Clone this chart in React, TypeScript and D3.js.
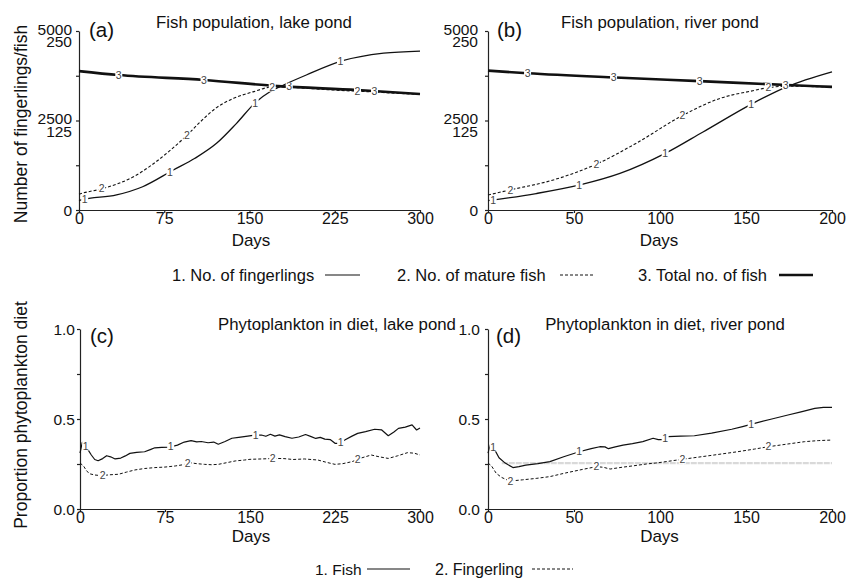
import { useEffect, useRef } from "react";
import * as d3 from "d3";

type Pt = [number, number];

const FONT = "'Liberation Sans', Arial, Helvetica, sans-serif";

// (a) lake pond: [day, value]; fingerlings on the 0-5000 scale, fish on 0-250
const lakeFingerlings: Pt[] = [[0, 260], [2, 280], [33, 420], [56, 650], [83, 1117], [102, 1444], [121, 1862], [138.6, 2421], [156, 3026], [168, 3305], [180, 3492], [200, 3771], [232, 4170], [268, 4380], [300, 4440]];
const lakeMature: Pt[] = [[0, 22], [2, 23], [21, 30], [48, 46.5], [77, 79], [96, 106], [106, 122], [121, 143], [136, 156], [153, 165], [171, 172], [185, 171.5], [200, 170], [225, 167.5], [250, 165.5], [275, 163.5], [300, 161.5]];
const lakeTotal: Pt[] = [[0, 194], [35, 188.5], [110, 181.6], [175, 173], [245, 167.6], [300, 162]];

// (b) river pond
const riverFingerlings: Pt[] = [[0, 260], [28, 460], [53.5, 700], [76.7, 1020], [103, 1580], [125, 2180], [154, 2980], [173.6, 3440], [200, 3860]];
const riverMature: Pt[] = [[0, 21], [12.8, 28], [38, 42], [63, 64], [86, 93], [113.6, 132.7], [135, 156], [154, 166.6], [163, 171], [175, 173], [187, 172.5], [200, 171.5]];
const riverTotal: Pt[] = [[0, 194.6], [23, 191], [74, 185], [123, 180], [174, 174.6], [200, 172]];

// (c) phytoplankton in diet, lake pond
const lakeDietFish: Pt[] = [[0, 0.31], [2, 0.37], [4, 0.36], [7, 0.33], [10, 0.3], [13, 0.275], [16, 0.268], [20, 0.28], [23.5, 0.296], [27, 0.29], [31, 0.278], [36, 0.283], [40, 0.295], [44, 0.309], [50, 0.315], [57, 0.318], [62, 0.33], [66, 0.34], [72, 0.342], [79, 0.344], [86, 0.355], [92, 0.372], [98, 0.38], [103, 0.373], [107, 0.375], [113, 0.368], [118, 0.372], [122, 0.36], [128, 0.375], [134, 0.393], [140, 0.398], [148, 0.405], [154, 0.41], [160, 0.411], [164, 0.404], [168, 0.415], [172, 0.405], [176, 0.412], [181, 0.402], [187, 0.393], [193, 0.4], [199, 0.414], [204, 0.402], [208, 0.392], [212, 0.398], [216, 0.388], [221, 0.385], [225, 0.365], [229, 0.365], [234, 0.385], [240, 0.405], [245, 0.42], [252, 0.43], [260, 0.443], [266, 0.44], [272, 0.407], [277, 0.428], [281, 0.448], [287, 0.455], [293, 0.467], [297, 0.439], [300, 0.45]];
const lakeDietFingerling: Pt[] = [[0, 0.255], [3, 0.24], [6, 0.21], [9, 0.195], [13, 0.189], [19, 0.185], [26, 0.19], [34, 0.193], [41, 0.205], [48.5, 0.217], [57, 0.225], [66, 0.23], [75, 0.233], [84, 0.239], [90, 0.245], [97, 0.257], [103, 0.252], [110, 0.248], [116, 0.246], [122, 0.248], [130, 0.258], [137, 0.267], [145, 0.272], [150, 0.276], [160, 0.278], [172, 0.281], [180, 0.28], [188, 0.275], [198, 0.278], [204, 0.275], [210, 0.272], [217, 0.26], [225, 0.248], [232, 0.252], [240, 0.263], [248, 0.283], [257, 0.3], [264, 0.29], [272, 0.281], [280, 0.295], [289, 0.313], [295, 0.31], [300, 0.3]];

// (d) phytoplankton in diet, river pond
const riverDietFish: Pt[] = [[0, 0.31], [1.5, 0.36], [3, 0.345], [6.4, 0.285], [10, 0.255], [14.5, 0.23], [18, 0.235], [22, 0.244], [29, 0.252], [36, 0.263], [44, 0.29], [53, 0.318], [60, 0.335], [65, 0.346], [68, 0.345], [70, 0.335], [74, 0.345], [78.5, 0.355], [84, 0.363], [90, 0.374], [96, 0.393], [99, 0.385], [101, 0.385], [104.6, 0.402], [112, 0.405], [120, 0.407], [130, 0.422], [141.7, 0.443], [148, 0.458], [155, 0.476], [165, 0.5], [174.4, 0.522], [182, 0.54], [190, 0.559], [195, 0.565], [200, 0.565]];
const riverDietFingerling: Pt[] = [[0, 0.255], [2, 0.24], [4.8, 0.198], [8, 0.175], [12.6, 0.155], [20, 0.162], [28, 0.17], [36, 0.18], [45, 0.2], [55, 0.22], [63, 0.235], [67, 0.232], [71, 0.222], [78, 0.232], [84.6, 0.24], [92, 0.25], [99, 0.257], [107, 0.268], [116, 0.28], [130, 0.298], [145, 0.318], [155, 0.333], [163, 0.346], [175, 0.362], [184, 0.374], [192, 0.38], [200, 0.383]];
const riverDietRef: Pt[] = [[8, 0.255], [200, 0.255]];

// axis ticks
const lakeDays = [0, 75, 150, 225, 300];
const riverDays = [0, 50, 100, 150, 200];
const fingTicks = [0, 2500, 5000];
const fishTicks = [0, 125, 250];
const fishMinorTicks = [62.5, 187.5];
const propTicks = [0, 0.5, 1.0];
const propMinorTicks = [0.25, 0.75];

// days where the curve numbers sit
const lakeMarks = [[5, 80, 155, 230], [20, 95, 170, 245], [35, 110, 185, 260]];
const riverMarks = [[3, 53, 103, 153], [13, 63, 113, 163], [23, 73, 123, 173]];

const valueAt = (data: Pt[], day: number) => {
  const i = d3.bisector((d: Pt) => d[0]).right(data, day);
  if (i <= 0) return data[0][1];
  if (i >= data.length) return data[data.length - 1][1];
  const [x0, y0] = data[i - 1];
  const [x1, y1] = data[i];
  return y0 + ((y1 - y0) * (day - x0)) / (x1 - x0);
};

function drawPanel(svg: any, p: any) {
  const x = d3.scaleLinear().domain([0, p.maxDay]).range([p.left, p.right]);
  const y = d3.scaleLinear().domain([0, p.maxY]).range([p.bottom, p.top]);

  // x axis
  const gx = svg.append("g")
    .attr("transform", `translate(0,${p.bottom})`)
    .call(d3.axisBottom(x).tickValues(p.xTicks).tickSize(3).tickSizeOuter(0).tickPadding(0));
  gx.attr("font-family", FONT).attr("font-size", 16);
  gx.selectAll("path, line").attr("stroke", "#222").attr("stroke-width", 1.2);
  gx.selectAll("text").attr("fill", "#111");

  // y axis (labels drawn by hand, some are two-line)
  const gy = svg.append("g")
    .attr("transform", `translate(${p.left},0)`)
    .call(d3.axisLeft(y).tickValues(p.yTicks).tickSize(3).tickSizeOuter(0).tickFormat(() => ""));
  gy.selectAll("path, line").attr("stroke", "#222").attr("stroke-width", 1.2);

  p.yLabels.forEach((lab: any) => {
    const t = svg.append("text")
      .attr("y", y(lab.v) - (lab.lines.length > 1 ? 2 : 0))
      .attr("text-anchor", "end")
      .attr("font-family", FONT)
      .attr("font-size", 15.5)
      .attr("fill", "#111");
    lab.lines.forEach((s: string, i: number) => {
      t.append("tspan").attr("x", p.left - p.labelGap).attr("dy", i === 0 ? "0.36em" : "12.8").text(s);
    });
  });

  // series
  p.series.forEach((s: any) => {
    const ys = d3.scaleLinear().domain([0, s.max ?? p.maxY]).range([p.bottom, p.top]);
    const line = d3.line<Pt>()
      .x((d) => x(d[0]))
      .y((d) => ys(d[1]))
      .curve(p.smooth ? d3.curveMonotoneX : d3.curveLinear);
    svg.append("path")
      .datum(s.data)
      .attr("d", line)
      .attr("fill", "none")
      .attr("stroke", s.color ?? "#111")
      .attr("stroke-width", s.width)
      .attr("stroke-dasharray", s.dash ?? null)
      .attr("stroke-linejoin", "round");
  });

  // curve numbers
  p.series.forEach((s: any) => {
    if (!s.marks) return;
    const ys = d3.scaleLinear().domain([0, s.max ?? p.maxY]).range([p.bottom, p.top]);
    s.marks.forEach((day: number) => {
      const cx = x(day);
      const cy = ys(valueAt(s.data, day));
      svg.append("rect")
        .attr("x", cx - 3.5).attr("y", cy - 4.5)
        .attr("width", 7).attr("height", 9)
        .attr("fill", "#fff");
      svg.append("text")
        .attr("x", cx).attr("y", cy)
        .attr("dy", "0.35em")
        .attr("text-anchor", "middle")
        .attr("font-family", FONT)
        .attr("font-size", 10.5)
        .attr("fill", "#444")
        .text(s.name);
    });
  });

  // title, tag and axis labels
  const txt = (tx: number, ty: number, s: string, size: number, anchor = "middle") =>
    svg.append("text")
      .attr("x", tx).attr("y", ty)
      .attr("text-anchor", anchor)
      .attr("font-family", FONT)
      .attr("font-size", size)
      .attr("fill", "#111")
      .text(s);
  txt(p.titleX, p.titleY, p.title, 16.8);
  txt(p.left + p.tagDx, p.tagY, p.tag, 20.5, "start");
  txt(p.daysX, p.daysY, "Days", 17);
  if (p.yTitle) {
    svg.append("text")
      .attr("transform", `translate(${p.yTitleX},${p.yTitleY}) rotate(-90)`)
      .attr("text-anchor", "middle")
      .attr("dy", "0.35em")
      .attr("font-family", FONT)
      .attr("font-size", 17.5)
      .attr("fill", "#111")
      .text(p.yTitle);
  }
}

const popLabels = fishTicks.map((v, i) => ({
  v,
  lines: fingTicks[i] === 0 ? ["0"] : [String(fingTicks[i]), String(v)],
}));
const propLabels = propTicks.map((v) => ({ v, lines: [v.toFixed(1)] }));

export default function App() {
  const svgRef = useRef<SVGSVGElement>(null);

  useEffect(() => {
    const svg = d3.select(svgRef.current);
    svg.selectAll("*").remove();

    const popTicks = [...fishTicks, ...fishMinorTicks].sort((a, b) => a - b);
    const propAll = [...propTicks, ...propMinorTicks].sort((a, b) => a - b);

    drawPanel(svg, {
      left: 79, right: 420, top: 31, bottom: 210, maxDay: 300, maxY: 250, smooth: true,
      xTicks: lakeDays, yTicks: popTicks, yLabels: popLabels, labelGap: 7,
      title: "Fish population, lake pond", titleX: 254, titleY: 28,
      tag: "(a)", tagDx: 10, tagY: 36.5, daysX: 251, daysY: 245.5,
      yTitle: "Number of fingerlings/fish", yTitleX: 21, yTitleY: 124,
      series: [
        { name: "1", data: lakeFingerlings, max: 5000, width: 1.3, marks: lakeMarks[0] },
        { name: "2", data: lakeMature, width: 1.1, dash: "3,2", marks: lakeMarks[1] },
        { name: "3", data: lakeTotal, width: 2.6, marks: lakeMarks[2] },
      ],
    });

    drawPanel(svg, {
      left: 488, right: 832, top: 31, bottom: 210, maxDay: 200, maxY: 250, smooth: true,
      xTicks: riverDays, yTicks: popTicks, yLabels: popLabels, labelGap: 10,
      title: "Fish population, river pond", titleX: 660, titleY: 28,
      tag: "(b)", tagDx: 9, tagY: 36.5, daysX: 659, daysY: 245.5,
      series: [
        { name: "1", data: riverFingerlings, max: 5000, width: 1.3, marks: riverMarks[0] },
        { name: "2", data: riverMature, width: 1.1, dash: "3,2", marks: riverMarks[1] },
        { name: "3", data: riverTotal, width: 2.6, marks: riverMarks[2] },
      ],
    });

    drawPanel(svg, {
      left: 80, right: 420, top: 329, bottom: 509, maxDay: 300, maxY: 1, smooth: false,
      xTicks: lakeDays, yTicks: propAll, yLabels: propLabels, labelGap: 5,
      title: "Phytoplankton in diet, lake pond", titleX: 337, titleY: 330,
      tag: "(c)", tagDx: 10, tagY: 343, daysX: 251, daysY: 542,
      yTitle: "Proportion phytoplankton diet", yTitleX: 21, yTitleY: 415,
      series: [
        { name: "1", data: lakeDietFish, width: 1.2, marks: lakeMarks[0] },
        { name: "2", data: lakeDietFingerling, width: 1, dash: "3,2", marks: lakeMarks[1] },
      ],
    });

    drawPanel(svg, {
      left: 488, right: 832, top: 329, bottom: 509, maxDay: 200, maxY: 1, smooth: false,
      xTicks: riverDays, yTicks: propAll, yLabels: propLabels, labelGap: 8,
      title: "Phytoplankton in diet, river pond", titleX: 665, titleY: 330,
      tag: "(d)", tagDx: 8, tagY: 343, daysX: 659.5, daysY: 542,
      series: [
        { name: "ref", data: riverDietRef, width: 2.4, color: "#d9d9d9", dash: "6,1" },
        { name: "1", data: riverDietFish, width: 1.2, marks: riverMarks[0] },
        { name: "2", data: riverDietFingerling, width: 1, dash: "3,2", marks: riverMarks[1] },
      ],
    });

    // legends
    const legend = (lx: number, ly: number, label: string, x1: number, x2: number, width: number, dash: string | null, size: number) => {
      svg.append("text")
        .attr("x", lx).attr("y", ly)
        .attr("font-family", FONT)
        .attr("font-size", size)
        .attr("fill", "#111")
        .text(label);
      svg.append("line")
        .attr("x1", x1).attr("x2", x2)
        .attr("y1", ly - 6).attr("y2", ly - 6)
        .attr("stroke", "#111")
        .attr("stroke-width", width)
        .attr("stroke-dasharray", dash);
    };
    legend(172, 281, "1. No. of fingerlings", 325, 360, 1.2, null, 16.5);
    legend(397, 281, "2. No. of mature fish", 560, 595, 1, "3,2", 16.5);
    legend(638, 281, "3. Total no. of fish", 779, 813, 2.6, null, 16.5);
    legend(315, 575, "1. Fish", 367, 410, 1.2, null, 15.5);
    legend(435, 575, "2. Fingerling", 532, 573, 1, "3,2", 16);
  }, []);

  return (
    <svg
      ref={svgRef}
      width={846}
      height={580}
      style={{ position: "absolute", left: 0, top: 0, background: "#fff" }}
    />
  );
}
